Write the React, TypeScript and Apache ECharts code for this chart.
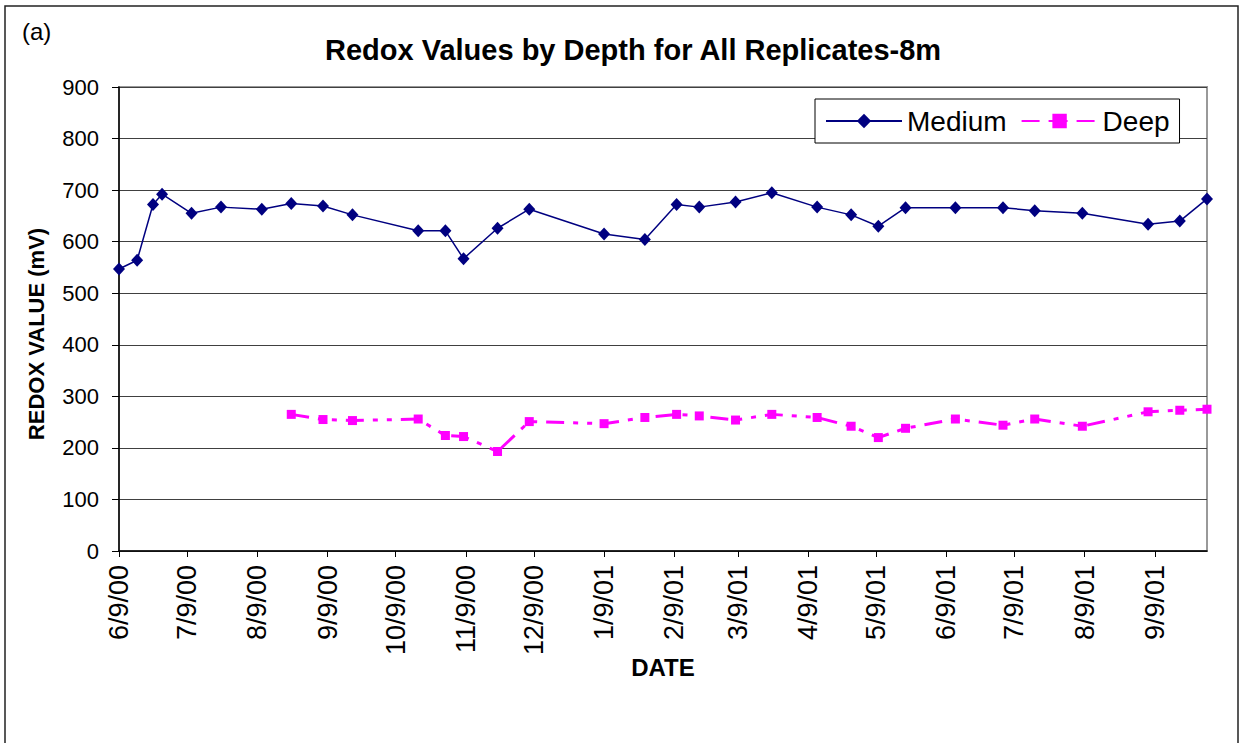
import React, { useEffect, useRef } from 'react';
import * as echarts from 'echarts';

// ---- data ----
const xTickLabels = ['6/9/00', '7/9/00', '8/9/00', '9/9/00', '10/9/00', '11/9/00', '12/9/00', '1/9/01', '2/9/01', '3/9/01', '4/9/01', '5/9/01', '6/9/01', '7/9/01', '8/9/01', '9/9/01'];
const xMinDate = '2000-06-09';
const xMaxDate = '2001-10-02';

const mediumDates = ['2000-06-09', '2000-06-17', '2000-06-24', '2000-06-28', '2000-07-11', '2000-07-24', '2000-08-11', '2000-08-24', '2000-09-07', '2000-09-20', '2000-10-19', '2000-10-31', '2000-11-08', '2000-11-23', '2000-12-07', '2001-01-09', '2001-01-27', '2001-02-10', '2001-02-20', '2001-03-08', '2001-03-24', '2001-04-13', '2001-04-28', '2001-05-10', '2001-05-22', '2001-06-13', '2001-07-04', '2001-07-18', '2001-08-08', '2001-09-06', '2001-09-20', '2001-10-02'];
const mediumValues = [547, 564, 672, 692, 655, 667, 663, 674, 669, 652, 621, 621, 567, 626, 663, 615, 604, 672, 667, 677, 695, 667, 652, 630, 666, 666, 666, 660, 655, 634, 640, 683];

const deepDates = ['2000-08-24', '2000-09-07', '2000-09-20', '2000-10-19', '2000-10-31', '2000-11-08', '2000-11-23', '2000-12-07', '2001-01-09', '2001-01-27', '2001-02-10', '2001-02-20', '2001-03-08', '2001-03-24', '2001-04-13', '2001-04-28', '2001-05-10', '2001-05-22', '2001-06-13', '2001-07-04', '2001-07-18', '2001-08-08', '2001-09-06', '2001-09-20', '2001-10-02'];
const deepValues = [265, 255, 253, 256, 224, 222, 193, 251, 247, 259, 265, 262, 254, 265, 259, 242, 220, 238, 256, 244, 256, 242, 270, 273, 275];

const yMin = 0;
const yMax = 900;
const yInterval = 100;

// ---- helpers ----
const DAY = 86400000;
function parseISO(s: string): number {
  const [y, m, d] = s.split('-').map(Number);
  return Date.UTC(y, m - 1, d) / DAY; // days since epoch
}
function parseMDY(s: string): number {
  const [m, d, y] = s.split('/').map(Number);
  return Date.UTC(2000 + y, m - 1, d) / DAY;
}
function fmt(v: number): string {
  const d = new Date(Math.round(v) * DAY);
  return `${d.getUTCMonth() + 1}/${d.getUTCDate()}/${String(d.getUTCFullYear()).slice(2)}`;
}

const FONT = '"Liberation Sans", Arial, Helvetica, sans-serif';

export default function App() {
  const ref = useRef<HTMLDivElement>(null);

  useEffect(() => {
    if (!ref.current) return;
    const chart = echarts.init(ref.current, null, { renderer: 'svg' });
    const ticks = xTickLabels.map(parseMDY);

    chart.setOption({
      animation: false,
      backgroundColor: '#fff',
      title: {
        text: 'Redox Values by Depth for All Replicates-8m',
        left: 320,
        top: 30,
        textStyle: { fontFamily: FONT, fontWeight: 'bold', fontSize: 29, color: '#000' },
      },
      graphic: [
        {
          type: 'rect',
          shape: { x: 5, y: 6, width: 1233, height: 760 },
          style: { fill: 'none', stroke: '#222', lineWidth: 1.5 },
          silent: true,
        },
        {
          type: 'text',
          x: 22,
          y: 19,
          style: { text: '(a)', fontFamily: FONT, fontSize: 24, fill: '#000' },
        },
      ],
      legend: {
        left: 815,
        top: 99,
        orient: 'horizontal',
        padding: [6, 10, 6, 10],
        itemGap: 14,
        itemWidth: 76,
        itemHeight: 18,
        borderColor: '#000',
        borderWidth: 1,
        backgroundColor: '#fff',
        textStyle: { fontFamily: FONT, fontSize: 28, color: '#000', lineHeight: 32 },
        data: ['Medium', 'Deep'],
      },
      grid: {
        left: 119,
        right: 34,
        top: 87,
        bottom: 192,
        show: true,
        borderColor: '#999',
        borderWidth: 2,
        backgroundColor: 'transparent',
      },
      xAxis: {
        type: 'value',
        min: parseISO(xMinDate),
        max: parseISO(xMaxDate),
        name: 'DATE',
        nameLocation: 'middle',
        nameGap: 104,
        nameMoveOverlap: false,
        nameTextStyle: { fontFamily: FONT, fontWeight: 'bold', fontSize: 24, color: '#000' },
        axisLine: { show: true, onZero: false, lineStyle: { color: '#000', width: 1.5 } },
        axisTick: { show: true, customValues: ticks, length: 6, lineStyle: { color: '#000', width: 1 } },
        axisLabel: {
          customValues: ticks,
          rotate: 90,
          fontFamily: FONT,
          fontSize: 27,
          color: '#000',
          margin: 14,
          hideOverlap: false,
          formatter: (v: number) => fmt(v),
        },
        splitLine: { show: false },
      },
      yAxis: {
        type: 'value',
        min: yMin,
        max: yMax,
        interval: yInterval,
        name: 'REDOX VALUE (mV)',
        nameLocation: 'middle',
        nameGap: 72,
        nameMoveOverlap: false,
        nameTextStyle: { fontFamily: FONT, fontWeight: 'bold', fontSize: 22, color: '#000', padding: [0, 30, 0, 0] },
        axisLine: { show: true, lineStyle: { color: '#000', width: 1.5 } },
        axisTick: { show: true, length: 7, lineStyle: { color: '#000', width: 1 } },
        axisLabel: { fontFamily: FONT, fontSize: 22, color: '#000', margin: 20 },
        splitLine: { show: true, lineStyle: { color: '#404040', width: 1 } },
      },
      series: [
        {
          name: 'Medium',
          type: 'line',
          clip: false,
          data: mediumDates.map((d, i) => [parseISO(d), mediumValues[i]]),
          symbol: 'diamond',
          symbolSize: [12, 13],
          itemStyle: { color: '#000080' },
          lineStyle: { color: '#000080', width: 1.5 },
          z: 3,
        },
        {
          name: 'Deep',
          type: 'line',
          clip: false,
          data: deepDates.map((d, i) => [parseISO(d), deepValues[i]]),
          symbol: 'rect',
          symbolSize: 9,
          itemStyle: { color: '#FF00FF' },
          lineStyle: { color: '#FF00FF', width: 3, type: [18, 9, 5, 9, 5, 9] },
          z: 2,
        },
      ],
    });

    return () => chart.dispose();
  }, []);

  return (
    <div
      ref={ref}
      style={{ position: 'absolute', left: 0, top: 0, width: 1241, height: 743, background: '#fff' }}
    />
  );
}
